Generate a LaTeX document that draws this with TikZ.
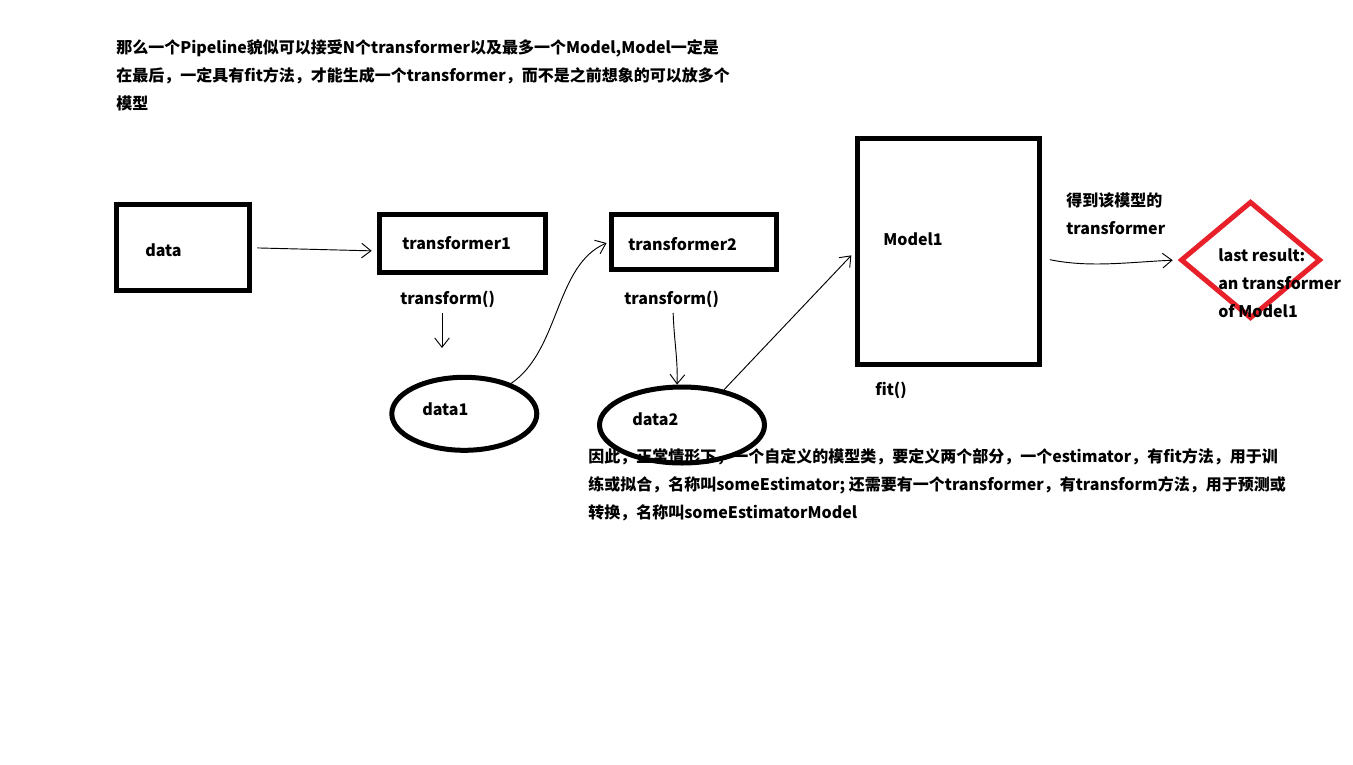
\documentclass[tikz,border=0pt]{standalone}
\usepackage{fontspec}
\setmainfont{Noto Sans CJK SC}
\usetikzlibrary{arrows.meta,shapes.geometric}
\definecolor{dred}{RGB}{232,32,42}
\begin{document}
\begin{tikzpicture}[x=0.75pt,y=-0.75pt,
  font=\bfseries\fontsize{12}{21}\selectfont,
  box/.style={draw, line width=3.75pt, inner sep=0pt},
  blob/.style={draw, ellipse, line width=3.75pt, inner sep=0pt},
  txt/.style={inner sep=0pt, anchor=base west},
  para/.style={inner sep=0pt, anchor=north west, align=left},
  conn/.style={line width=0.7pt, -{Straight Barb[length=7pt,width=11pt]}}]
\useasboundingbox[fill=white] (0,0) rectangle (1353,764);

% top paragraph
\node[para] (intro) at (116,39) {那么一个Pipeline貌似可以接受N个transformer以及最多一个Model,Model一定是\\在最后，一定具有fit方法，才能生成一个transformer，而不是之前想象的可以放多个\\模型};

% bottom paragraph
\node[para] (note) at (588,448) {因此，正常情形下，一个自定义的模型类，要定义两个部分，一个estimator，有fit方法，用于训\\练或拟合，名称叫someEstimator; 还需要有一个transformer，有transform方法，用于预测或\\转换，名称叫someEstimatorModel};

% boxes
\node[box, minimum width=99.75pt, minimum height=64.5pt] (data) at (183,247.8) {};
\node[txt] (datat) at (145,256) {data};
\node[box, minimum width=124.5pt, minimum height=43.5pt] (t1) at (462.5,243.5) {};
\node[txt] (t1t) at (402,249) {transformer1};
\node[box, minimum width=123.75pt, minimum height=41.25pt] (t2) at (694,242) {};
\node[txt] (t2t) at (628,250) {transformer2};
\node[box, minimum width=136.5pt, minimum height=169.5pt] (model) at (948.5,251.5) {};
\node[txt] (modelt) at (883,245) {Model1};

\node[txt] (tf1) at (400,304) {transform()};
\node[txt] (tf2) at (624,304) {transform()};
\node[txt] (fit) at (875,395) {fit()};

% ellipses
\node[blob, minimum width=108.75pt, minimum height=54.75pt] (data1) at (464.3,413.8) {};
\node[txt] (data1t) at (422,415) {data1};
\node[blob, minimum width=123.75pt, minimum height=57pt] (data2) at (682,425) {};
\node[txt] (data2t) at (632,425) {data2};

% result diamond
\node[draw=dred, diamond, line width=3.75pt, inner sep=0pt, minimum width=105pt, minimum height=88pt] (res) at (1250.5,260) {};
\node[para] (rest) at (1218,248) {last result:\\an transformer\\of Model1};
\node[para] (gain) at (1066,192) {得到该模型的\\transformer};

% connectors
\coordinate (a1) at (442,348);
\draw[conn, shorten <=4pt, shorten >=4pt] (data.east) -- (t1.185);
\draw[conn, shorten <=4pt] (tf1.south -| a1) -- (a1);
\draw[conn, shorten >=2pt] (data1.33) .. controls (560,350) and (555,265) .. (t2.west);
\draw[conn, shorten <=4pt] ([xshift=1pt]tf2.south) .. controls (674,340) and (678,360) .. (data2.97);
\draw[conn, shorten >=4pt] (data2.40) -- (model.west);
\draw[conn, shorten <=6pt, shorten >=4pt] (model.-4) .. controls (1090,268) and (1130,262) .. (res.west);
\end{tikzpicture}
\end{document}
